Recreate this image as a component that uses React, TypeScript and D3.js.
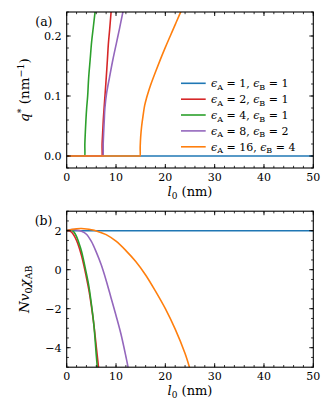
import React from 'react';
import * as d3 from 'd3';

// series labels: epsilon_A, epsilon_B
const epsA = [1, 2, 4, 8, 16];
const epsB = [1, 1, 1, 2, 4];
const colors = ['#1f77b4', '#d62728', '#2ca02c', '#9467bd', '#ff7f0e'];

// panel (a): q* (nm^-1) against l0 (nm)
const qBlue: [number, number][] = [[0, 0], [50, 0]];
const qRed: [number, number][] = [
	[0, 0], [7.0, 0], [7.1, 0], [7.15, 0], [7.18, 0.02], [7.3, 0.04], [7.42, 0.06], [7.55, 0.076],
	[7.8, 0.105], [8.03, 0.132], [8.25, 0.16], [8.45, 0.187], [8.7, 0.21], [9.0, 0.24], [9.1, 0.25],
];
const qGreen: [number, number][] = [
	[0, 0], [3.5, 0], [3.6, 0], [3.65, 0], [3.68, 0.02], [3.78, 0.04], [3.9, 0.06], [4.05, 0.08],
	[4.25, 0.1], [4.45, 0.13], [4.75, 0.16], [5.05, 0.19], [5.4, 0.215], [5.75, 0.24], [5.9, 0.25],
];
const qPurple: [number, number][] = [
	[0, 0], [7.2, 0], [7.3, 0], [7.36, 0], [7.4, 0.02], [7.5, 0.04], [7.62, 0.06], [7.75, 0.08],
	[8.1, 0.105], [8.7, 0.132], [9.35, 0.16], [10.05, 0.187], [10.7, 0.212], [11.4, 0.24], [11.7, 0.25],
];
const qOrange: [number, number][] = [
	[0, 0], [14.7, 0], [14.8, 0], [14.87, 0], [14.9, 0.015], [15.0, 0.032], [15.2, 0.05],
	[15.5, 0.068], [15.8, 0.084], [16.2, 0.097], [16.6, 0.108], [17.0, 0.118], [18.0, 0.14],
	[19.0, 0.161], [20.0, 0.181], [21.0, 0.2], [22.0, 0.219], [22.9, 0.236], [23.5, 0.247],
];

// panel (b): N v0 chi_AB against l0 (nm)
const chiBlue: [number, number][] = [[0, 2], [50, 2]];
const chiRed: [number, number][] = [
	[0, 2.0], [0.5, 2.0], [1, 1.92], [1.5, 1.75], [2, 1.5], [2.5, 1.15], [3, 0.72], [3.5, 0.2],
	[4, -0.4], [4.5, -1.05], [5, -1.85], [5.5, -2.8], [6, -3.95], [6.45, -5.0], [6.55, -5.3],
];
const chiGreen: [number, number][] = [
	[0, 2.0], [0.5, 2.04], [1, 2.03], [1.5, 1.92], [2, 1.7], [2.5, 1.35], [3, 0.95], [3.5, 0.4],
	[4, -0.2], [4.5, -0.85], [5, -1.75], [5.5, -2.8], [6, -4.4], [6.2, -5.0], [6.3, -5.3],
];
const chiPurple: [number, number][] = [
	[0, 2.0], [1, 2.06], [2, 2.04], [3, 1.97], [4, 1.82], [5, 1.45], [6, 0.9], [7, 0.25],
	[8, -0.55], [9, -1.45], [10, -2.35], [11, -3.3], [12, -4.45], [12.4, -4.95], [12.6, -5.3],
];
const chiOrange: [number, number][] = [
	[0, 2.0], [1, 2.06], [2, 2.1], [3, 2.11], [4, 2.09], [5, 2.05], [6, 1.99], [8, 1.8],
	[10, 1.46], [12, 0.98], [14, 0.42], [16, -0.27], [18, -1.1], [20, -2.0], [22, -3.05],
	[24, -4.3], [25, -5.1],
];

const qSeries = [qBlue, qRed, qGreen, qPurple, qOrange];
const chiSeries = [chiBlue, chiRed, chiGreen, chiPurple, chiOrange];

// ticks
const xTicks = [0, 10, 20, 30, 40, 50];
const qTicks = [0.0, 0.1, 0.2];
const chiTicks = [-4, -2, 0, 2];

const FONT = 'DejaVu Serif';

const Panel = ({ top, yDomain, yTicks, yFormat, yMinorStep, series, tag, yLabel, legend }) => {
	const left = 66.7, right = 313.3, height = 156;
	const bottom = top + height;
	const x = d3.scaleLinear().domain([0, 50]).range([left, right]);
	const y = d3.scaleLinear().domain(yDomain).range([bottom, top]);
	const line = d3.line().x((d) => x(d[0])).y((d) => y(d[1])).curve(d3.curveCatmullRom.alpha(0.5));
	const clipId = 'clip-' + tag;

	const xMinor = d3.range(0, 50.001, 2);
	const nMinor = Math.round((yDomain[1] - yDomain[0]) / yMinorStep);
	const yMinor = d3.range(0, nMinor + 1).map((i) => yDomain[0] + i * yMinorStep);

	return (
		<g>
			<defs>
				<clipPath id={clipId}>
					<rect x={left} y={top} width={right - left} height={height} />
				</clipPath>
			</defs>
			{/* curves */}
			<g clipPath={`url(#${clipId})`}>
				{series.map((s, i) => (
					<path key={i} d={line(s)} fill='none' stroke={colors[i]} strokeWidth={1.6} />
				))}
			</g>
			{/* minor ticks */}
			{xMinor.map((v) => (
				<g key={'xm' + v}>
					<line x1={x(v)} x2={x(v)} y1={bottom} y2={bottom - 2.2} stroke='black' strokeWidth={0.8} />
					<line x1={x(v)} x2={x(v)} y1={top} y2={top + 2.2} stroke='black' strokeWidth={0.8} />
				</g>
			))}
			{yMinor.map((v, i) => (
				<g key={'ym' + i}>
					<line x1={left} x2={left + 2.2} y1={y(v)} y2={y(v)} stroke='black' strokeWidth={0.8} />
					<line x1={right} x2={right - 2.2} y1={y(v)} y2={y(v)} stroke='black' strokeWidth={0.8} />
				</g>
			))}
			{/* major ticks + labels */}
			{xTicks.map((v) => (
				<g key={'x' + v}>
					<line x1={x(v)} x2={x(v)} y1={bottom} y2={bottom - 4} stroke='black' strokeWidth={0.9} />
					<line x1={x(v)} x2={x(v)} y1={top} y2={top + 4} stroke='black' strokeWidth={0.9} />
					<text x={x(v)} y={bottom + 12.8} textAnchor='middle' fontSize={11}>
						{v}
					</text>
				</g>
			))}
			{yTicks.map((v) => (
				<g key={'y' + v}>
					<line x1={left} x2={left + 4} y1={y(v)} y2={y(v)} stroke='black' strokeWidth={0.9} />
					<line x1={right} x2={right - 4} y1={y(v)} y2={y(v)} stroke='black' strokeWidth={0.9} />
					<text x={left - 5} y={y(v) + 4} textAnchor='end' fontSize={11.2}>
						{yFormat(v)}
					</text>
				</g>
			))}
			{/* frame */}
			<rect x={left} y={top} width={right - left} height={height} fill='none' stroke='black' strokeWidth={1.1} />
			{/* panel tag */}
			<text x={52.5} y={top + 14} textAnchor='end' fontSize={12.5}>
				({tag})
			</text>
			{/* x label */}
			<text x={(left + right) / 2} y={bottom + 27.5} textAnchor='middle' fontSize={13}>
				<tspan fontStyle='italic'>l</tspan>
				<tspan fontSize={9} dy={3}>0</tspan>
				<tspan dy={-3}> (nm)</tspan>
			</text>
			{/* y label */}
			<text
				transform={`translate(29, ${top + height / 2}) rotate(-90)`}
				textAnchor='middle'
				fontSize={13.5}
			>
				{yLabel}
			</text>
			{legend}
		</g>
	);
};

const Legend = () => {
	const rowY = [83.3, 99.2, 115, 130.9, 146.8];
	return (
		<g>
			{epsA.map((a, i) => (
				<g key={i}>
					<line x1={181} x2={205.7} y1={rowY[i]} y2={rowY[i]} stroke={colors[i]} strokeWidth={1.6} />
					<text x={211} y={rowY[i] + 4} fontSize={11}>
						<tspan fontStyle='italic'>ϵ</tspan>
						<tspan fontSize={8} dy={2.5}>A</tspan>
						<tspan dy={-2.5}>{` = ${a}, `}</tspan>
						<tspan fontStyle='italic'>ϵ</tspan>
						<tspan fontSize={8} dy={2.5}>B</tspan>
						<tspan dy={-2.5}>{` = ${epsB[i]}`}</tspan>
					</text>
				</g>
			))}
		</g>
	);
};

const App = () => {
	return (
		<svg
			width={332}
			height={411}
			fontFamily={FONT}
			style={{ position: 'absolute', left: 0, top: 0, background: 'white', fontFamily: FONT }}
		>
			<Panel
				top={12}
				yDomain={[-0.02, 0.24]}
				yTicks={qTicks}
				yFormat={(v) => v.toFixed(1)}
				yMinorStep={0.02}
				series={qSeries}
				tag='a'
				yLabel={
					<>
						<tspan fontStyle='italic'>q</tspan>
						<tspan fontSize={9.5} dy={-5}>*</tspan>
						<tspan dy={5}> (nm</tspan>
						<tspan fontSize={9.5} dy={-5}>−1</tspan>
						<tspan dy={5}>)</tspan>
					</>
				}
				legend={<Legend />}
			/>
			<Panel
				top={211.2}
				yDomain={[-5, 3]}
				yTicks={chiTicks}
				yFormat={(v) => (v < 0 ? '−' + Math.abs(v) : String(v))}
				yMinorStep={0.5}
				series={chiSeries}
				tag='b'
				yLabel={
					<>
						<tspan fontStyle='italic'>Nv</tspan>
						<tspan fontSize={9.5} dy={3}>0</tspan>
						<tspan dy={-3} fontStyle='italic'>χ</tspan>
						<tspan fontSize={9.5} dy={3}>AB</tspan>
					</>
				}
				legend={null}
			/>
		</svg>
	);
};

export default App;
